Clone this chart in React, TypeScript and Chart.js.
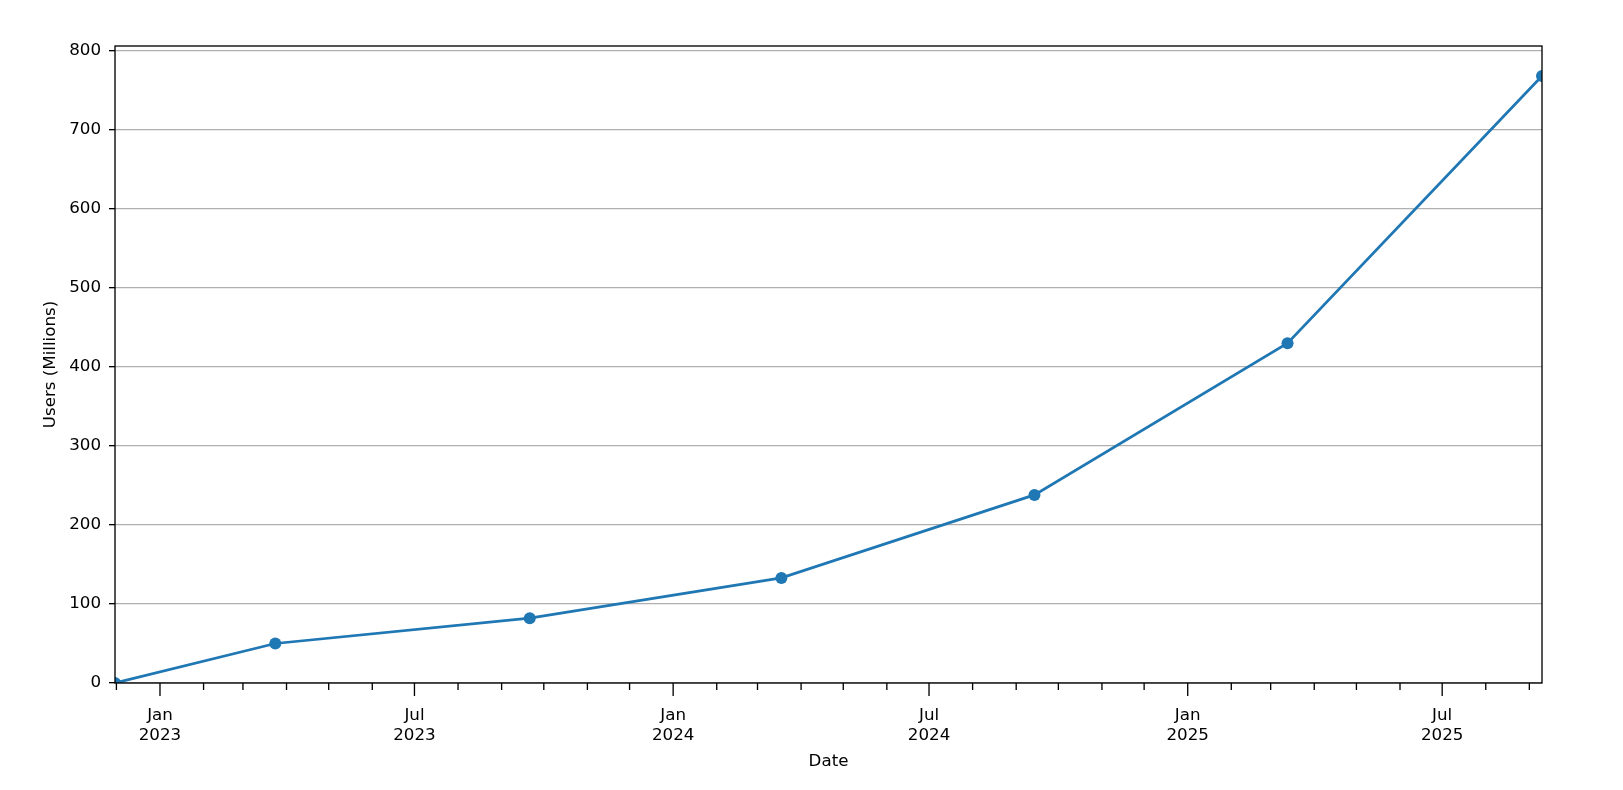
import React, {useEffect, useRef} from 'react'
import {Chart, registerables} from 'chart.js'

Chart.register(...registerables)

// data points (dates, users in millions)
const dates = ['2022-11-30', '2023-03-24', '2023-09-21', '2024-03-18', '2024-09-14', '2025-03-13', '2025-09-10']
const users = [0, 50, 82, 133, 238, 430, 768]
const monthNames = ['Jan', 'Feb', 'Mar', 'Apr', 'May', 'Jun', 'Jul', 'Aug', 'Sep', 'Oct', 'Nov', 'Dec']
const yTicks = [0, 100, 200, 300, 400, 500, 600, 700, 800]

const DAY = 86400000
const toDay = (s: string) => {
  const [y, m, d] = s.split('-').map(Number)
  return Date.UTC(y, m - 1, d) / DAY
}

const FONT = {family: 'DejaVu Sans', size: 16.7}

const framePlugin = {
  id: 'frame',
  afterDraw(chart: any) {
    const {ctx, chartArea: a, scales} = chart
    const x = scales.x
    ctx.save()
    ctx.strokeStyle = '#000'
    ctx.lineWidth = 1.33
    x.ticks.forEach((t: any) => {
      const px = x.getPixelForValue(t.value)
      const m = new Date(t.value * DAY).getUTCMonth()
      const len = m % 6 === 0 ? 13 : 7
      ctx.beginPath()
      ctx.moveTo(px, a.bottom)
      ctx.lineTo(px, a.bottom + len)
      ctx.stroke()
    })
    ctx.strokeRect(a.left, a.top, a.right - a.left, a.bottom - a.top)
    ctx.restore()
  },
}

const UsersChart: React.FC = () => {
  const chartRef = useRef<HTMLCanvasElement | null>(null)

  useEffect(() => {
    if (!chartRef.current) {
      return
    }
    const xs = dates.map(toDay)
    const xMin = xs[0]
    const xMax = xs[xs.length - 1]

    const chart = new Chart(chartRef.current, {
      type: 'line',
      data: {
        datasets: [
          {
            label: 'Users',
            data: xs.map((x, i) => ({x, y: users[i]})),
            borderColor: '#1f77b4',
            backgroundColor: '#1f77b4',
            borderWidth: 2.7,
            pointRadius: 6,
            pointBorderWidth: 0,
            pointBackgroundColor: '#1f77b4',
            tension: 0,
            clip: 0,
          },
        ],
      },
      plugins: [framePlugin],
      options: {
        animation: false,
        responsive: true,
        maintainAspectRatio: false,
        layout: {padding: {top: 46, right: 81, left: 0, bottom: 0}},
        plugins: {
          legend: {display: false},
          tooltip: {enabled: false},
        },
        scales: {
          x: {
            type: 'linear',
            min: xMin,
            max: xMax,
            afterBuildTicks: (scale: any) => {
              const ticks = []
              const start = new Date(xMin * DAY)
              let y = start.getUTCFullYear()
              let m = start.getUTCMonth() + 1
              for (;;) {
                if (m > 11) {
                  m = 0
                  y++
                }
                const v = Date.UTC(y, m, 1) / DAY
                if (v > xMax) break
                ticks.push({value: v})
                m++
              }
              scale.ticks = ticks
            },
            afterFit: (scale: any) => {
              scale.height = 107
            },
            ticks: {
              autoSkip: false,
              maxRotation: 0,
              minRotation: 0,
              padding: 10,
              color: '#000',
              font: FONT,
              callback: (value: any) => {
                const d = new Date(Number(value) * DAY)
                const m = d.getUTCMonth()
                return m % 6 === 0 ? [monthNames[m], String(d.getUTCFullYear())] : ''
              },
            },
            grid: {
              display: true,
              drawOnChartArea: false,
              drawTicks: true,
              tickLength: 13,
              tickColor: 'rgba(0,0,0,0)',
            },
            border: {display: false},
            title: {
              display: true,
              text: 'Date',
              color: '#000',
              font: FONT,
              padding: {top: 0, bottom: 18},
            },
          },
          y: {
            type: 'linear',
            min: 0,
            max: 806,
            afterBuildTicks: (scale: any) => {
              scale.ticks = yTicks.map((v) => ({value: v}))
            },
            afterFit: (scale: any) => {
              scale.width = 115
            },
            ticks: {
              padding: 8,
              color: '#000',
              font: FONT,
            },
            grid: {
              color: '#b0b0b0',
              lineWidth: 1.33,
              tickColor: '#000',
              tickLength: 6,
            },
            border: {display: false},
            title: {
              display: true,
              text: 'Users (Millions)',
              color: '#000',
              font: FONT,
              padding: {top: 41, bottom: 0},
            },
          },
        },
      },
    })

    return () => {
      chart.destroy()
    }
  }, [chartRef])

  return (
    <div style={{position: 'absolute', left: 0, top: 0, width: '1623px', height: '790px', background: '#fff'}}>
      <canvas ref={chartRef}></canvas>
    </div>
  )
}

export default function App() {
  return <UsersChart />
}
